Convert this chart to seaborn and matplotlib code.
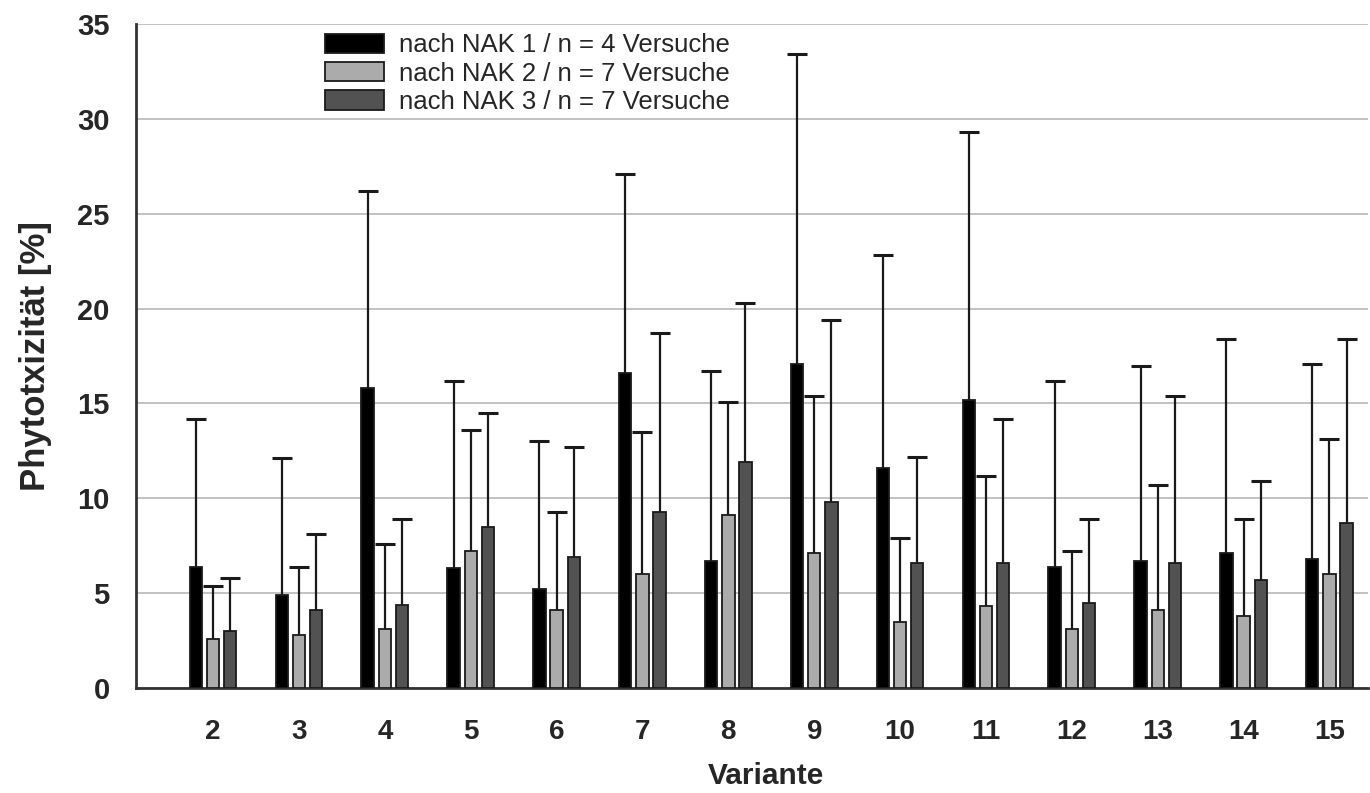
import numpy as np
import pandas as pd
import matplotlib
matplotlib.use("Agg")
import matplotlib.pyplot as plt
import seaborn as sns

# Daten
varianten = ["2", "3", "4", "5", "6", "7", "8", "9", "10", "11", "12", "13", "14", "15"]
gruppen = ["nach NAK 1 / n = 4 Versuche",
           "nach NAK 2 / n = 7 Versuche",
           "nach NAK 3 / n = 7 Versuche"]

nak1_mittel = [6.4, 4.9, 15.8, 6.3, 5.2, 16.6, 6.7, 17.1, 11.6, 15.2, 6.4, 6.7, 7.1, 6.8]
nak1_oben = [14.2, 12.1, 26.2, 16.2, 13.0, 27.1, 16.7, 33.4, 22.8, 29.3, 16.2, 17.0, 18.4, 17.1]
nak2_mittel = [2.6, 2.8, 3.1, 7.2, 4.1, 6.0, 9.1, 7.1, 3.5, 4.3, 3.1, 4.1, 3.8, 6.0]
nak2_oben = [5.4, 6.4, 7.6, 13.6, 9.3, 13.5, 15.1, 15.4, 7.9, 11.2, 7.2, 10.7, 8.9, 13.1]
nak3_mittel = [3.0, 4.1, 4.4, 8.5, 6.9, 9.3, 11.9, 9.8, 6.6, 6.6, 4.5, 6.6, 5.7, 8.7]
nak3_oben = [5.8, 8.1, 8.9, 14.5, 12.7, 18.7, 20.3, 19.4, 12.2, 14.2, 8.9, 15.4, 10.9, 18.4]

mittel = [nak1_mittel, nak2_mittel, nak3_mittel]
oben = [nak1_oben, nak2_oben, nak3_oben]
farben = ["#000000", "#ababab", "#525252"]

rows = []
for g, werte in zip(gruppen, mittel):
    for v, w in zip(varianten, werte):
        rows.append({"Variante": v, "Gruppe": g, "Wert": w})
df = pd.DataFrame(rows)

sns.set_style("white")
plt.rcParams["font.family"] = ["Liberation Sans", "DejaVu Sans"]

fig = plt.figure(figsize=(13.7, 7.93), dpi=100)
ax = fig.add_axes([0.0993, 0.1324, 0.8993, 0.8373])

sns.barplot(data=df, x="Variante", y="Wert", hue="Gruppe", order=varianten,
            hue_order=gruppen, palette=farben, width=0.6, gap=0.28,
            edgecolor="#1a1a1a", linewidth=1.3, errorbar=None, ax=ax,
            zorder=3)

# Fehlerbalken nur nach oben (untere Kappe ausblenden)
for cont, werte, tops in zip(ax.containers, mittel, oben):
    xs = [b.get_x() + b.get_width() / 2 for b in cont]
    err = np.array(tops) - np.array(werte)
    eb = ax.errorbar(xs, werte, yerr=[np.zeros(len(err)), err], fmt="none",
                     ecolor="#1a1a1a", elinewidth=1.6, capsize=7.5,
                     capthick=2.2, zorder=2)
    eb[1][0].set_visible(False)

ax.set_ylim(0, 35)
ax.set_yticks(range(0, 36, 5))
ax.set_xlim(-0.897, 13.45)
ax.yaxis.grid(True, color="#b8b8b8", linewidth=1.2, zorder=0)
ax.set_axisbelow(True)

for s in ["top", "right"]:
    ax.spines[s].set_visible(False)
for s in ["left", "bottom"]:
    ax.spines[s].set_color("#333333")
    ax.spines[s].set_linewidth(2)

ax.tick_params(axis="both", direction="out", width=1.5, color="#333333")
ax.tick_params(axis="y", length=8, labelsize=21, pad=11)
ax.tick_params(axis="x", length=7, labelsize=20, pad=15)
for lab in ax.get_xticklabels() + ax.get_yticklabels():
    lab.set_fontweight("bold")

ax.set_xlabel("Variante", fontsize=21.5, fontweight="bold")
ax.xaxis.set_label_coords(0.511, -0.112)
ax.xaxis.label.set_va("top")
ax.set_ylabel("Phytotxizität [%]", fontsize=25, fontweight="bold")
ax.yaxis.set_label_coords(-0.068, 0.5)

handles, labels = ax.get_legend_handles_labels()
ax.legend(handles, labels, loc="upper left", bbox_to_anchor=(0.153, 0.986),
          frameon=False, fontsize=18.5, handlelength=2.33, handleheight=0.78,
          handletextpad=0.58, labelspacing=0.17, borderpad=0, borderaxespad=0)

fig.savefig("out.png", dpi=100)
